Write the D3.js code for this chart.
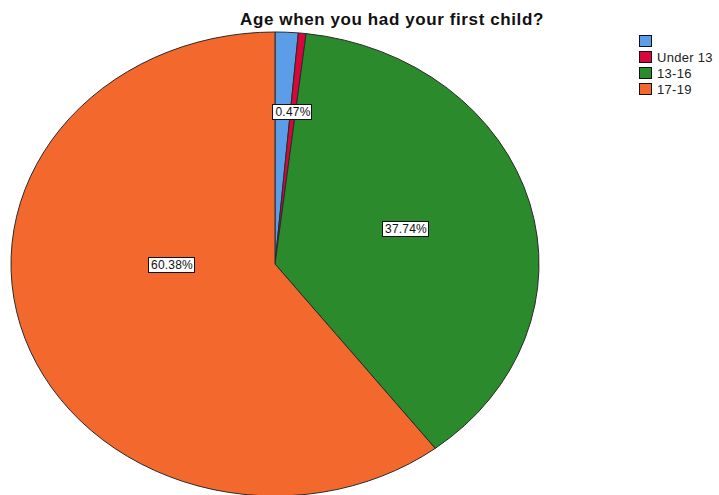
<!DOCTYPE html>
<html>
<head>
<meta charset="utf-8">
<script src="https://cdn.jsdelivr.net/npm/d3@7"></script>
<style>
  html, body { margin: 0; padding: 0; background: #fff; }
  svg { display: block; font-family: "Liberation Sans", Arial, sans-serif; }
</style>
</head>
<body>
<svg id="chart" width="719" height="495"></svg>
<script>
// Age groups and their share of respondents (percent)
const categories = ["", "Under 13", "13-16", "17-19"];
const percents = [1.41, 0.47, 37.74, 60.38];
const colors = ["#5b9de6", "#d8063a", "#2b8a2b", "#f3692d"];
const showLabel = [false, true, true, true];
const title = "Age when you had your first child?";

const svg = d3.select("#chart");

// Elliptical pie: drawn as a circle of radius ry, stretched horizontally
const cx = 275, cy = 264, rx = 264, ry = 232;

svg.append("text")
  .attr("x", 392).attr("y", 25)
  .attr("text-anchor", "middle")
  .attr("font-size", 17).attr("font-weight", "bold")
  .attr("letter-spacing", 0.6)
  .attr("fill", "#111")
  .text(title);

const data = categories.map((c, i) => ({ cat: c, value: percents[i], color: colors[i], label: showLabel[i] }));

const pie = d3.pie().sort(null).value(d => d.value);
const arcs = pie(data);
const arc = d3.arc().innerRadius(0).outerRadius(ry);

const g = svg.append("g")
  .attr("transform", `translate(${cx},${cy}) scale(${rx / ry},1)`);

g.selectAll("path.slice")
  .data(arcs)
  .join("path")
  .attr("class", "slice")
  .attr("d", arc)
  .attr("fill", d => d.data.color)
  .attr("stroke", "#2a2a2a")
  .attr("stroke-width", 1)
  .attr("stroke-linejoin", "round")
  .attr("vector-effect", "non-scaling-stroke");

// Label placement: radial fraction and angular shift (in degrees) from each slice's mid-angle
const labelPlacement = { "Under 13": [0.66, 0], "13-16": [0.52, -1.5], "17-19": [0.39, 18] };

const fmt = d => d.toFixed(2) + "%";
const labels = svg.append("g");
arcs.filter(a => a.data.label).forEach(a => {
  const [rf, shift] = labelPlacement[a.data.cat];
  const mid = (a.startAngle + a.endAngle) / 2 + shift * Math.PI / 180;
  const x = cx + rx * rf * Math.sin(mid);
  const y = cy - ry * rf * Math.cos(mid);
  const lg = labels.append("g").attr("transform", `translate(${Math.round(x)},${Math.round(y)})`);
  const t = lg.append("text")
    .attr("text-anchor", "middle")
    .attr("dy", "0.36em")
    .attr("font-size", 12)
    .attr("letter-spacing", 0.2)
    .attr("fill", "#111")
    .text(fmt(a.data.value));
  const bb = t.node().getBBox();
  lg.insert("rect", "text")
    .attr("x", Math.round(bb.x) - 2.5).attr("y", Math.round(bb.y) - 0.5)
    .attr("width", Math.round(bb.width) + 4).attr("height", Math.round(bb.height) + 1)
    .attr("fill", "#fff").attr("stroke", "#111").attr("stroke-width", 1);
});

// Legend
const legend = svg.append("g").attr("transform", "translate(639,35)");
const rowH = 16;
const items = legend.selectAll("g").data(data).join("g")
  .attr("transform", (d, i) => `translate(0,${i * rowH})`);
items.append("rect")
  .attr("x", 0.5).attr("y", 0.5).attr("width", 12).attr("height", 11)
  .attr("fill", d => d.color).attr("stroke", "#111").attr("stroke-width", 1);
items.append("text")
  .attr("x", 18).attr("y", 6.5).attr("dy", "0.36em")
  .attr("font-size", 13).attr("letter-spacing", 0.3)
  .attr("fill", "#222")
  .text(d => d.cat);
</script>
</body>
</html>
